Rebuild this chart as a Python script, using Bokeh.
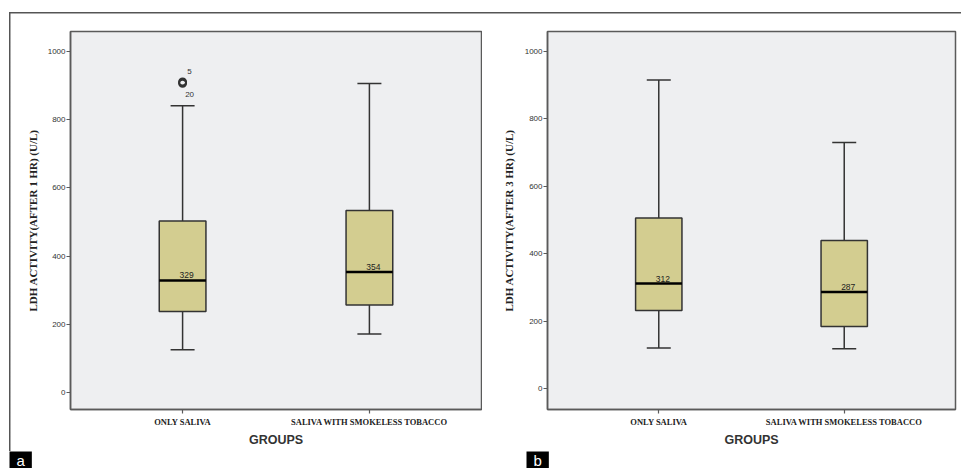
from bokeh.plotting import figure
from bokeh.models import (FactorRange, Range1d, FixedTicker, ColumnDataSource,
                          Whisker, TeeHead, Title)
from bokeh.transform import dodge
from bokeh.layouts import row
from bokeh.embed import file_html
from bokeh.resources import INLINE
from bokeh.core.properties import value

# ---------------- data ----------------
groups = ["ONLY SALIVA", "SALIVA WITH SMOKELESS TOBACCO"]
y_ticks = [0, 200, 400, 600, 800, 1000]

# panel a : after 1 hr
a_lower = [126, 172]
a_q1 = [238, 257]
a_median = [329, 354]
a_q3 = [503, 534]
a_upper = [840, 905]
a_outlier_group = ["ONLY SALIVA", "ONLY SALIVA"]
a_outlier_values = [910, 906]
a_outlier_ids = ["5", "20"]

# panel b : after 3 hr
b_lower = [121, 119]
b_q1 = [232, 185]
b_median = [312, 287]
b_q3 = [506, 440]
b_upper = [915, 730]

# ---------------- styles ----------------
FRAME_BG = "#eeeff1"
BOX_FILL = "#d3cd90"
DARK = "#333333"
FRAME_LINE = "#5a5a5a"


def make_panel(ylabel, lower, q1, med, q3, upper, y0, y1, width, height,
               b_left, b_right, b_top, b_bottom, label_standoff, letter, letter_offset):
    p = figure(x_range=FactorRange(*groups, range_padding=0.1),
               y_range=Range1d(y0, y1), width=width, height=height,
               output_backend="svg", toolbar_location=None,
               min_border_left=b_left, min_border_right=b_right,
               min_border_top=b_top, min_border_bottom=b_bottom)
    p.background_fill_color = FRAME_BG
    p.border_fill_color = None
    p.outline_line_color = FRAME_LINE
    p.outline_line_width = 1.5
    p.grid.visible = False

    src = ColumnDataSource(dict(x=groups, lower=lower, q1=q1, median=med,
                                q3=q3, upper=upper,
                                median_label=[str(m) for m in med]))

    p.add_layout(Whisker(base="x", upper="upper", lower="q3", source=src,
                         line_color=DARK, line_width=1.5,
                         upper_head=TeeHead(size=24, line_color=DARK, line_width=1.5),
                         lower_head=None))
    p.add_layout(Whisker(base="x", upper="q1", lower="lower", source=src,
                         line_color=DARK, line_width=1.5,
                         lower_head=TeeHead(size=24, line_color=DARK, line_width=1.5),
                         upper_head=None))
    p.vbar(x="x", width=0.25, bottom="q1", top="q3", source=src,
           fill_color=BOX_FILL, line_color=DARK, line_width=1.5)
    p.segment(x0=dodge("x", -0.125, range=p.x_range), y0="median",
              x1=dodge("x", 0.125, range=p.x_range), y1="median",
              source=src, line_color="black", line_width=2.5)
    p.text(x="x", y="median", text="median_label", source=src,
           x_offset=4, y_offset=-2, text_align="center", text_baseline="bottom",
           text_font_size="8.5px", text_font=value("Liberation Sans"),
           text_color="#222222")

    p.yaxis.ticker = FixedTicker(ticks=y_ticks)
    p.yaxis.minor_tick_line_color = None
    p.yaxis.major_tick_in = 0
    p.yaxis.major_tick_out = 4
    p.yaxis.major_label_standoff = 1
    p.yaxis.major_label_text_font = "Liberation Sans"
    p.yaxis.major_label_text_font_size = "8px"
    p.yaxis.major_label_text_color = "#333333"
    p.yaxis.axis_label = ylabel
    p.yaxis.axis_label_text_font = "Liberation Serif"
    p.yaxis.axis_label_text_font_style = "bold"
    p.yaxis.axis_label_text_font_size = "11px"
    p.yaxis.axis_label_text_color = "#222222"
    p.yaxis.axis_label_standoff = label_standoff

    p.xaxis.major_tick_in = 0
    p.xaxis.major_tick_out = 4
    p.xaxis.major_label_standoff = 3
    p.xaxis.major_label_text_font = "Liberation Serif"
    p.xaxis.major_label_text_font_style = "bold"
    p.xaxis.major_label_text_font_size = "8.5px"
    p.xaxis.major_label_text_color = "#222222"
    p.xaxis.axis_label = "GROUPS"
    p.xaxis.axis_label_text_font = "Liberation Sans"
    p.xaxis.axis_label_text_font_style = "bold"
    p.xaxis.axis_label_text_font_size = "12.5px"
    p.xaxis.axis_label_text_color = "#333333"
    p.xaxis.axis_label_standoff = 3

    for ax in (p.xaxis, p.yaxis):
        ax.axis_line_color = FRAME_LINE
        ax.axis_line_width = 1.5
        ax.major_tick_line_color = FRAME_LINE
        ax.major_tick_line_width = 1.2

    # panel letter below the axis
    p.add_layout(Title(text=letter, align="left", offset=letter_offset, standoff=0,
                       vertical_align="bottom", text_color="white",
                       background_fill_color="black", text_font="Liberation Sans",
                       text_font_style="normal", text_font_size="15px",
                       padding=(7, 0)), "below")
    return p


pa = make_panel("LDH ACTIVITY(AFTER 1 HR) (U/L)", a_lower, a_q1, a_median, a_q3, a_upper,
                -48.7, 1057.5, 482, 468, 70, 1, 31, 58, 6, "a", -61)
osrc = ColumnDataSource(dict(x=a_outlier_group, y=a_outlier_values, id=a_outlier_ids))
pa.scatter(x="x", y="y", source=osrc, marker="circle", size=7,
           fill_color=None, line_color=DARK, line_width=2)
pa.text(x=[a_outlier_group[0]], y=[a_outlier_values[0]], text=[a_outlier_ids[0]],
        x_offset=7, y_offset=-10, text_align="center", text_baseline="middle",
        text_font_size="8px", text_font=value("Liberation Sans"), text_color="#333333")
pa.text(x=[a_outlier_group[1]], y=[a_outlier_values[1]], text=[a_outlier_ids[1]],
        x_offset=7, y_offset=11, text_align="center", text_baseline="middle",
        text_font_size="8px", text_font=value("Liberation Sans"), text_color="#333333")
# outer rules of the figure panel (top and left)
pa.styles = {"background-image": "linear-gradient(#555,#555), linear-gradient(#555,#555)",
             "background-size": "473px 1.5px, 1.5px 439px",
             "background-position": "9px 12px, 9px 12px",
             "background-repeat": "no-repeat",
             "background-color": "white"}

pb = make_panel("LDH ACTIVITY(AFTER 3 HR) (U/L)", b_lower, b_q1, b_median, b_q3, b_upper,
                -61.2, 1059, 479, 468, 65, 6, 31, 58, 7, "b", -21)
pb.styles = {"background-image": "linear-gradient(#555,#555)",
             "background-size": "479px 1.5px",
             "background-position": "0px 12px",
             "background-repeat": "no-repeat",
             "background-color": "white"}

layout = row(pa, pb)
open("out.html", "w").write(file_html(layout, INLINE))
